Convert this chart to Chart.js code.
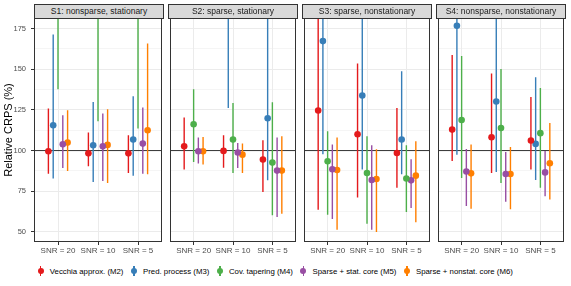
<!DOCTYPE html>
<html>
<head>
<meta charset="utf-8">
<script src="https://cdn.jsdelivr.net/npm/chart.js@4.4.0/dist/chart.umd.min.js"></script>
<style>
body { margin: 0; background: #fff; font-family: "Liberation Sans", Arial, sans-serif; }
#wrap { position: relative; width: 571px; height: 286px; overflow: hidden; }
canvas { position: absolute; top: 0; }
.strip { position: absolute; top: 4px; height: 15px; box-sizing: border-box; border: 1px solid #333;
  background: #d9d9d9; color: #1a1a1a; font-size: 8.5px; line-height: 13px; text-align: center; white-space: nowrap; }
#legend { position: absolute; top: 265px; left: 35px; display: flex; align-items: center; font-size: 7.8px; color: #000; }
.item { display: flex; align-items: center; margin-right: 4.8px; }
.key { position: relative; width: 11px; height: 12px; margin-right: 3.8px; }
.key .ln { position: absolute; left: 5px; top: 1px; width: 1.4px; height: 10px; }
.key .pt { position: absolute; left: 2.7px; top: 3px; width: 6px; height: 6px; border-radius: 50%; }
</style>
</head>
<body>
<div id="wrap">
  <canvas id="c0" width="166" height="258" style="left:0px"></canvas>
  <canvas id="c1" width="134" height="258" style="left:166px"></canvas>
  <canvas id="c2" width="134" height="258" style="left:300px"></canvas>
  <canvas id="c3" width="134" height="258" style="left:434px"></canvas>
  <div id="strips"></div>
  <div id="legend"></div>
</div>
<script>
// facets and x categories
const scenarios = ["S1: nonsparse, stationary", "S2: sparse, stationary", "S3: sparse, nonstationary", "S4: nonsparse, nonstationary"];
const snrLabels = ["SNR = 20", "SNR = 10", "SNR = 5"];
const yTickLabels = [50, 75, 100, 125, 150, 175];

// values per method, order: S1 (20,10,5), S2 (20,10,5), S3 (...), S4 (...)
// estimates above ~181 fall outside the visible window
const m2Est = [99.6, 98.3, 98.3, 102.6, 99.8, 94.5, 124.6, 110.0, 98.5, 112.9, 108.2, 106.2];
const m2Lo  = [85.8, 90.3, 86.2, 88.3, 89.5, 74.5, 63.7, 71.1, 77.2, 93.6, 86.2, 88.3];
const m2Hi  = [125.9, 111.1, 109.4, 120.3, 109.4, 106.3, 205, 153.6, 126.2, 158.7, 147.4, 133.0];

const m3Est = [115.6, 103.3, 106.8, 215, 195, 119.9, 167.3, 133.9, 106.8, 176.7, 130.2, 104.1];
const m3Lo  = [82.8, 80.7, 84.6, 188, 126.2, 81.7, 97.7, 88.3, 85.4, 97.5, 86.8, 81.9];
const m3Hi  = [171.4, 129.9, 133.4, 260, 250, 220, 230, 220, 148.8, 230, 210, 145.1];

const m4Est = [195, 190, 192, 116.2, 106.8, 92.6, 93.4, 86.2, 82.8, 118.8, 113.9, 110.7];
const m4Lo  = [137.7, 118.0, 113.5, 93.0, 86.2, 60.2, 60.6, 55.0, 62.2, 83.1, 80.0, 77.2];
const m4Hi  = [260, 260, 260, 137.7, 129.3, 129.7, 111.9, 108.8, 103.3, 158.1, 150.1, 138.4];

const m5Est = [103.9, 102.6, 104.3, 99.6, 98.8, 87.7, 88.5, 81.9, 81.7, 87.1, 85.6, 86.6];
const m5Lo  = [89.3, 81.3, 85.8, 92.0, 89.3, 59.1, 57.9, 51.4, 64.7, 65.9, 68.6, 72.0];
const m5Hi  = [121.7, 122.8, 126.5, 108.0, 104.7, 108.0, 103.7, 103.3, 94.6, 101.0, 99.1, 99.8];

const m6Est = [104.9, 103.5, 112.5, 99.6, 97.5, 87.7, 88.1, 82.5, 84.6, 86.0, 85.6, 92.2];
const m6Lo  = [87.5, 80.0, 85.4, 91.4, 86.2, 61.2, 51.4, 49.9, 56.0, 64.3, 64.0, 70.0];
const m6Hi  = [124.8, 125.4, 165.9, 108.4, 104.3, 108.8, 108.0, 100.8, 105.7, 103.7, 102.2, 117.0];

const methodNames = ["Vecchia approx. (M2)", "Pred. process (M3)", "Cov. tapering (M4)", "Sparse + stat. core (M5)", "Sparse + nonstat. core (M6)"];
const colors = ["#E41A1C", "#377EB8", "#4DAF4A", "#984EA3", "#FF7F00"];
const ests = [m2Est, m3Est, m4Est, m5Est, m6Est];
const lows = [m2Lo, m3Lo, m4Lo, m5Lo, m6Lo];
const highs = [m2Hi, m3Hi, m4Hi, m5Hi, m6Hi];

const refLine = 100;
const yMin = 43.8, yMax = 181.5;
const dodge = 0.6 / 5;
const plotLefts = [34, 168, 302, 436];
const plotW = 130;

Chart.defaults.font.family = '"Liberation Sans", Arial, sans-serif';

// minor grid at the midpoints
const gridVals = [];
yTickLabels.forEach((v, i) => {
    gridVals.push(v);
    if (i < yTickLabels.length - 1) gridVals.push((v + yTickLabels[i + 1]) / 2);
});
const isMajor = v => yTickLabels.includes(v);

const borderPlugin = {
    id: 'panelBorder',
    afterDatasetsDraw(chart) {
        const a = chart.chartArea, ctx = chart.ctx;
        ctx.save();
        ctx.strokeStyle = '#333';
        ctx.lineWidth = 1;
        ctx.strokeRect(a.left + 0.5, a.top + 0.5, a.right - a.left - 1, a.bottom - a.top - 1);
        ctx.restore();
    }
};

function buildPanel(p) {
    const datasets = [];
    datasets.push({
        type: 'line', data: [{x: 0.4, y: refLine}, {x: 3.6, y: refLine}],
        borderColor: '#333', borderWidth: 1, pointRadius: 0, order: 3, clip: 0
    });
    colors.forEach((col, m) => {
        const off = (m - 2) * dodge;
        const bars = [], pts = [];
        for (let k = 0; k < 3; k++) {
            const i = p * 3 + k;
            bars.push({x: k + 1 + off, y: lows[m][i]}, {x: k + 1 + off, y: highs[m][i]}, {x: k + 1 + off, y: null});
            pts.push({x: k + 1 + off, y: ests[m][i]});
        }
        datasets.push({
            type: 'line', data: bars, borderColor: col, borderWidth: 1.4,
            pointRadius: 0, spanGaps: false, order: 2, clip: 0
        });
        datasets.push({
            type: 'scatter', data: pts, backgroundColor: col, borderWidth: 0,
            pointRadius: 3.3, order: 1, clip: 0
        });
    });

    const first = p === 0;
    new Chart(document.getElementById('c' + p), {
        type: 'scatter',
        data: { datasets },
        options: {
            responsive: false, animation: false, events: [],
            layout: { padding: { left: first ? 0 : 2, right: 2, top: 18, bottom: 0 } },
            plugins: { legend: { display: false }, tooltip: { enabled: false } },
            scales: {
                x: {
                    type: 'linear', min: 0.4, max: 3.6,
                    afterBuildTicks: s => { s.ticks = snrLabels.map((l, k) => ({ value: k + 1 })); },
                    afterFit: s => { s.height = 16; },
                    ticks: {
                        autoSkip: false, maxRotation: 0, padding: 1,
                        callback: v => snrLabels[Math.round(v) - 1] || '',
                        font: { size: 8 }, color: '#4d4d4d'
                    },
                    grid: { color: '#ebebeb', lineWidth: 1, tickLength: 3, tickColor: '#333', tickWidth: 1 },
                    border: { display: false }
                },
                y: {
                    min: yMin, max: yMax,
                    afterBuildTicks: s => { s.ticks = gridVals.map(v => ({ value: v })); },
                    afterFit: s => { s.width = first ? 34 : 0; },
                    ticks: {
                        display: first, autoSkip: false, padding: 5,
                        callback: v => isMajor(v) ? String(v) : '',
                        font: { size: 7.5 }, color: '#4d4d4d'
                    },
                    grid: {
                        color: '#ebebeb',
                        lineWidth: c => (c.tick && isMajor(c.tick.value)) ? 1 : 0.5,
                        drawTicks: first, tickLength: 3, tickWidth: 1,
                        tickColor: c => (c.tick && isMajor(c.tick.value)) ? '#333' : 'rgba(0,0,0,0)'
                    },
                    border: { display: false },
                    title: {
                        display: first, text: 'Relative CRPS (%)', color: '#000',
                        font: { size: 11 }, padding: { top: 2, bottom: 0 }
                    }
                }
            }
        },
        plugins: [borderPlugin]
    });
}

scenarios.forEach((s, p) => {
    buildPanel(p);
    const d = document.createElement('div');
    d.className = 'strip';
    d.style.left = plotLefts[p] + 'px';
    d.style.width = plotW + 'px';
    d.textContent = s;
    document.getElementById('strips').appendChild(d);
});

const legend = document.getElementById('legend');
methodNames.forEach((n, m) => {
    legend.innerHTML += `<div class="item"><div class="key"><div class="ln" style="background:${colors[m]}"></div>
        <div class="pt" style="background:${colors[m]}"></div></div><span>${n}</span></div>`;
});
</script>
</body>
</html>
